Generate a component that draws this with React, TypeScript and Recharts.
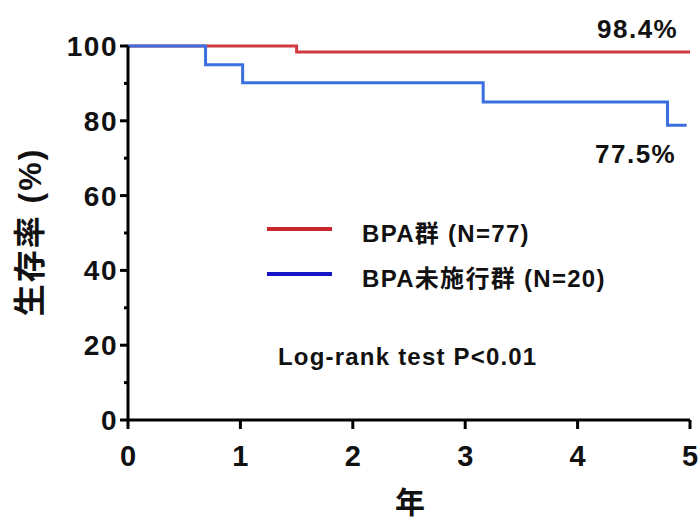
import React from "react";
import { LineChart, Line, XAxis, YAxis, Legend } from "recharts";

// Kaplan-Meier steps
const bpaYears = [0, 1.5, 5];
const bpaSurvival = [100, 98.4, 98.4];
const noBpaYears = [0, 0.69, 1.02, 3.16, 4.8, 4.97];
const noBpaSurvival = [100, 95, 90.2, 85, 78.8, 78.8];

const xTicks = [0, 1, 2, 3, 4, 5];
const yTicks = [0, 10, 20, 30, 40, 50, 60, 70, 80, 90, 100];

const seriesNames = ["BPA群 (N=77)", "BPA未施行群 (N=20)"];
const endLabels = ["98.4%", "77.5%"];
const testLabel = "Log-rank test P<0.01";

const FONT = "'Liberation Sans', Arial, 'Noto Sans CJK JP', sans-serif";
const RED = "#d2383f";
const BLUE = "#3b6fe0";

const bpaData = bpaYears.map((x, i) => ({ x, y: bpaSurvival[i] }));
const noBpaData = noBpaYears.map((x, i) => ({ x, y: noBpaSurvival[i] }));

function YTick({ x, y, payload }: any) {
  const major = payload.value % 20 === 0;
  return (
    <g>
      <line x1={x - (major ? 8 : 4)} x2={x} y1={y} y2={y} stroke="#000" strokeWidth={3} />
      {major && (
        <text
          x={x - 10}
          y={y}
          dy="0.36em"
          textAnchor="end"
          fontFamily={FONT}
          fontWeight="bold"
          fontSize={28}
          letterSpacing={1.5}
          fill="#111"
        >
          {payload.value}
        </text>
      )}
    </g>
  );
}

function XTick({ x, y, payload }: any) {
  return (
    <g>
      <line x1={x} x2={x} y1={y} y2={y + 9} stroke="#000" strokeWidth={3} />
      <text
        x={x}
        y={y + 36}
        dy="0.36em"
        textAnchor="middle"
        fontFamily={FONT}
        fontWeight="bold"
        fontSize={29}
        fill="#111"
      >
        {payload.value}
      </text>
    </g>
  );
}

function LegendBox() {
  const colors = ["#c8282c", "#1515c8"];
  return (
    <div style={{ fontFamily: FONT, whiteSpace: "nowrap" }}>
      {seriesNames.map((name, i) => (
        <div key={name} style={{ display: "flex", alignItems: "center", height: 45 }}>
          <div style={{ width: 65, height: 4, background: colors[i], marginRight: 30, marginTop: -6, flexShrink: 0 }} />
          <span style={{ fontSize: 24, fontWeight: "bold", letterSpacing: 1.3, color: "#111" }}>{name}</span>
        </div>
      ))}
    </div>
  );
}

export default function App() {
  const textStyle: React.CSSProperties = {
    position: "absolute",
    fontFamily: FONT,
    fontWeight: "bold",
    color: "#111",
    whiteSpace: "nowrap",
    lineHeight: 1,
  };
  return (
    <div style={{ position: "absolute", left: 0, top: 0, width: 699, height: 525, background: "#fff" }}>
      <LineChart width={699} height={525} margin={{ top: 46, right: 9, bottom: 45, left: 0 }}>
        <XAxis
          type="number"
          dataKey="x"
          domain={[0, 5]}
          ticks={xTicks}
          height={60}
          stroke="#000"
          strokeWidth={3}
          tickSize={0}
          tickMargin={0}
          tick={<XTick />}
          allowDataOverflow
        />
        <YAxis
          type="number"
          dataKey="y"
          domain={[0, 100]}
          ticks={yTicks}
          width={128}
          stroke="#000"
          strokeWidth={3}
          tickSize={0}
          tickMargin={0}
          tick={<YTick />}
          interval={0}
        />
        <Legend
          layout="vertical"
          align="center"
          verticalAlign="middle"
          wrapperStyle={{ position: "absolute", left: 267, top: 209, width: 420 }}
          content={<LegendBox />}
        />
        <Line
          data={bpaData}
          dataKey="y"
          type="stepAfter"
          stroke={RED}
          strokeWidth={3}
          dot={false}
          isAnimationActive={false}
          legendType="none"
        />
        <Line
          data={noBpaData}
          dataKey="y"
          type="stepAfter"
          stroke={BLUE}
          strokeWidth={3}
          dot={false}
          isAnimationActive={false}
          legendType="none"
        />
      </LineChart>
      <div style={{ ...textStyle, left: 597, top: 16, fontSize: 26, letterSpacing: 1.5 }}>{endLabels[0]}</div>
      <div style={{ ...textStyle, left: 595, top: 141, fontSize: 26, letterSpacing: 1.5 }}>{endLabels[1]}</div>
      <div style={{ ...textStyle, left: 278, top: 345, fontSize: 24, letterSpacing: 1.2 }}>{testLabel}</div>
      <div
        style={{
          ...textStyle,
          left: 30,
          top: 232,
          fontSize: 32,
          letterSpacing: 2,
          transform: "translate(-50%, -50%) rotate(-90deg)",
        }}
      >
        生存率 (%)
      </div>
      <div style={{ ...textStyle, left: 410, top: 503, fontSize: 30, transform: "translate(-50%, -50%)" }}>年</div>
    </div>
  );
}
